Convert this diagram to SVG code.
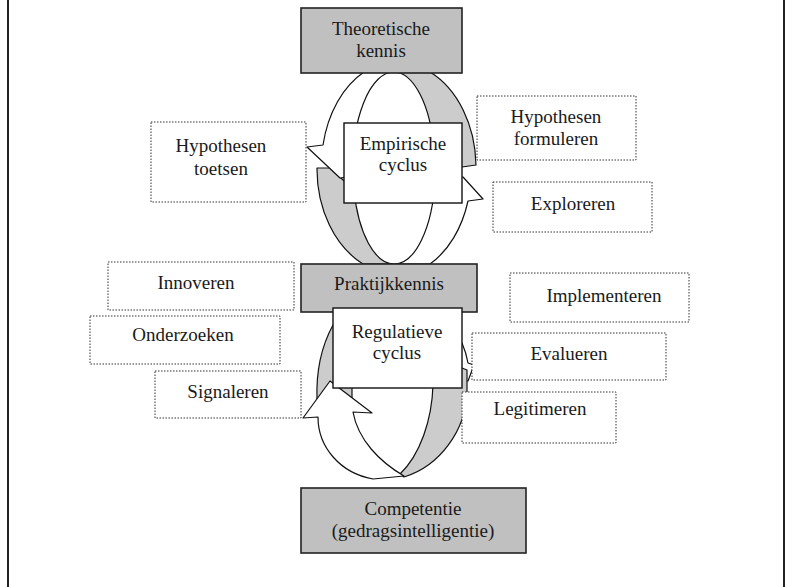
<svg xmlns="http://www.w3.org/2000/svg" width="791" height="587" viewBox="0 0 791 587">
<style>
.t{font-family:"Liberation Serif","Times New Roman",serif;font-size:19px;fill:#1a1a1a;text-anchor:middle}
.bar{fill:#c0c0c0;stroke:#222;stroke-width:1.6}
.cyc{fill:#fff;stroke:#111;stroke-width:1.4}
.lbl{fill:#fff;stroke:#333;stroke-width:1;stroke-dasharray:1.5 1.5}
.w{fill:#fff;stroke:#111;stroke-width:1.2;stroke-linejoin:round}
.g{fill:#cccccc;stroke:#111;stroke-width:1.2;stroke-linejoin:round}
.frame{stroke:#222;stroke-width:2}
</style>
<rect width="791" height="587" fill="#fff"/>
<line class="frame" x1="8" y1="0" x2="8" y2="587"/>
<line class="frame" x1="784" y1="0" x2="784" y2="587"/>

<g id="connectors">
  <!-- empirical cycle -->
  <path class="g" d="M394,72 A41 95 0 0 1 434,150 L462,167 L476,165 A79 105 0 0 0 430,72 Z"/>
  <path class="g" d="M317,168 L330,168 L354,190 A41 95 0 0 0 394,264 L363,264 A80 105 0 0 1 317,168 Z"/>
  <path class="w" d="M364,72 A76 105 0 0 0 323,145 L307,147 L340,178 L353,176 A41 95 0 0 1 394,72 Z"/>
  <path class="w" d="M455,177 L463,177 L483,199 L468,201 A76 105 0 0 1 430,264 L394,264 A41 95 0 0 0 435,180 Z"/>
  <!-- regulative cycle -->
  <path class="g" d="M345,318 L333,325 C322,345 316,372 317,400 L352,400 L352,318 Z"/>
  <path class="w" d="M455,335 L462,343 C465,350 467,357 468,363 L474,365 L468,381 L455,381 Z"/>
  <path class="g" d="M445,372 L462,368 L467,370 L467,392 C466,430 440,466 404,477 L400,474 C420,455 432,420 433,385 Z"/>
  <path class="w" d="M318,417 C318,447 340,473 373,479 L404,476 C380,462 358,440 353,412 L372,413 L330,381 L303,418 Z"/>
</g>

<g id="theoretische">
  <rect class="bar" x="301" y="8" width="161" height="65"/>
  <text class="t" x="381" y="35">Theoretische</text>
  <text class="t" x="381" y="57">kennis</text>
</g>
<g id="praktijk">
  <rect class="bar" x="301" y="264" width="176" height="48"/>
  <text class="t" x="389" y="290">Praktijkkennis</text>
</g>
<g id="competentie">
  <rect class="bar" x="301" y="488" width="225" height="65"/>
  <text class="t" x="413" y="515">Competentie</text>
  <text class="t" x="413" y="537">(gedragsintelligentie)</text>
</g>
<g id="empirisch">
  <rect class="cyc" x="344" y="123" width="118" height="80"/>
  <text class="t" x="403" y="150">Empirische</text>
  <text class="t" x="403" y="171">cyclus</text>
</g>
<g id="regulatief">
  <rect class="cyc" x="333" y="308" width="129" height="80"/>
  <text class="t" x="397" y="338">Regulatieve</text>
  <text class="t" x="397" y="359">cyclus</text>
</g>

<g id="toetsen">
  <rect class="lbl" x="151" y="122" width="155" height="80"/>
  <text class="t" x="221" y="152">Hypothesen</text>
  <text class="t" x="221" y="175">toetsen</text>
</g>
<g id="formuleren">
  <rect class="lbl" x="477" y="96" width="159" height="64"/>
  <text class="t" x="556" y="123">Hypothesen</text>
  <text class="t" x="556" y="145">formuleren</text>
</g>
<g id="exploreren">
  <rect class="lbl" x="493" y="182" width="159" height="50"/>
  <text class="t" x="573" y="210">Exploreren</text>
</g>
<g id="innoveren">
  <rect class="lbl" x="108" y="262" width="186" height="48"/>
  <text class="t" x="196" y="289">Innoveren</text>
</g>
<g id="implementeren">
  <rect class="lbl" x="510" y="273" width="179" height="49"/>
  <text class="t" x="604" y="302">Implementeren</text>
</g>
<g id="onderzoeken">
  <rect class="lbl" x="90" y="316" width="190" height="48"/>
  <text class="t" x="183" y="341">Onderzoeken</text>
</g>
<g id="evalueren">
  <rect class="lbl" x="472" y="333" width="194" height="47"/>
  <text class="t" x="569" y="360">Evalueren</text>
</g>
<g id="signaleren">
  <rect class="lbl" x="155" y="371" width="146" height="47"/>
  <text class="t" x="228" y="398">Signaleren</text>
</g>
<g id="legitimeren">
  <rect class="lbl" x="462" y="392" width="154" height="51"/>
  <text class="t" x="540" y="415">Legitimeren</text>
</g>
</svg>
